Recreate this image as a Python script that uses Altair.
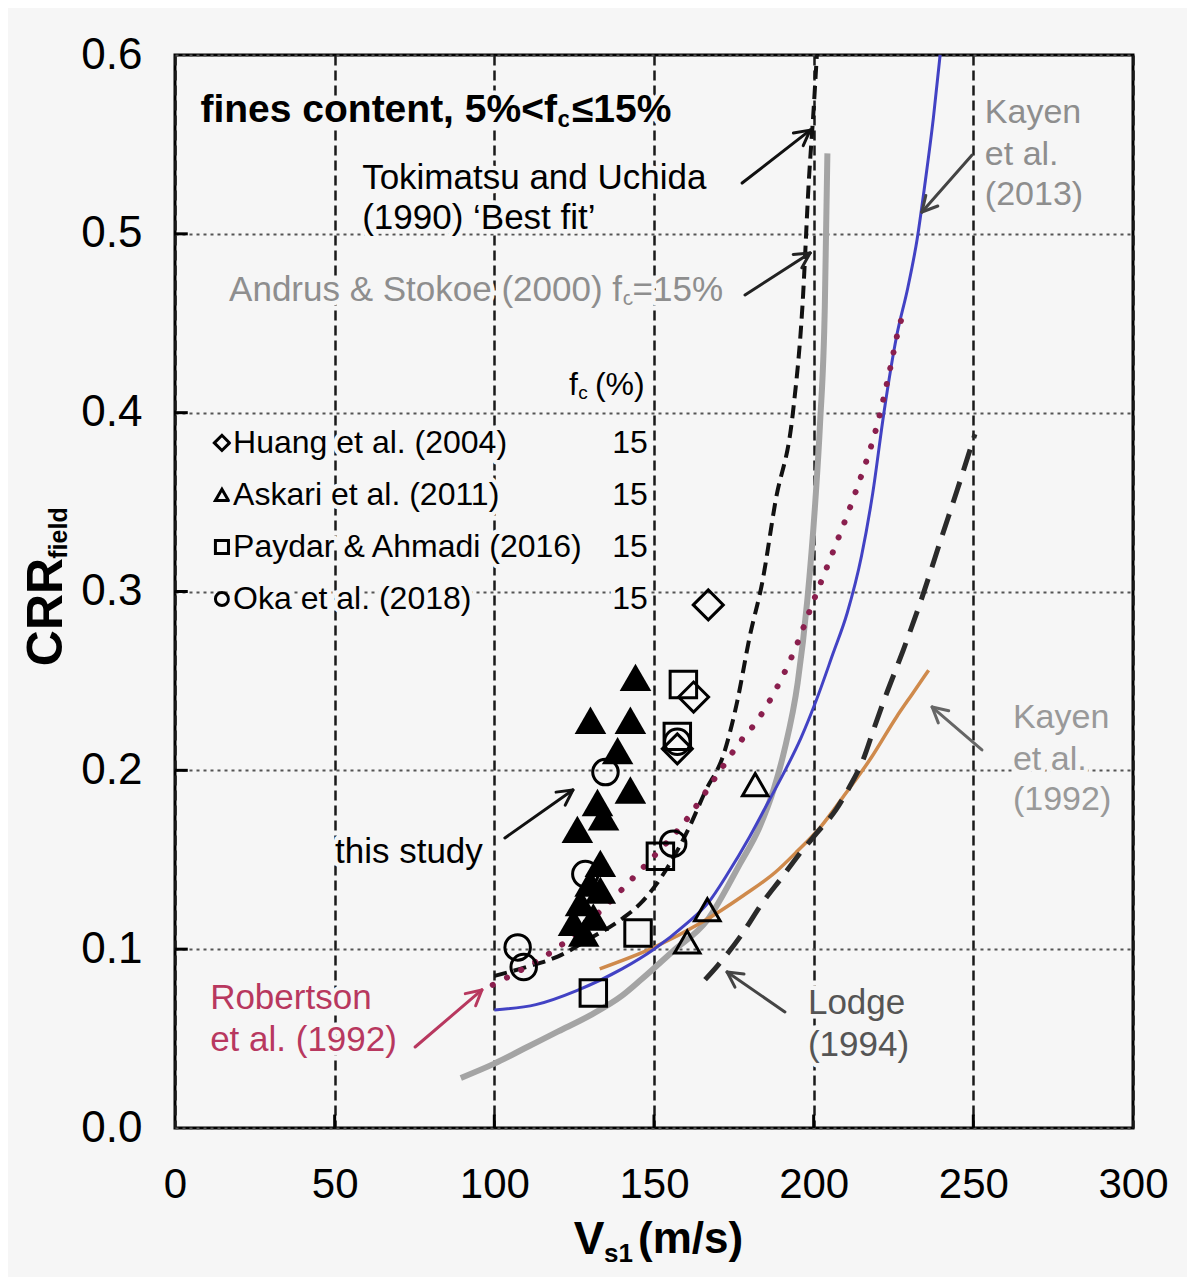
import math
import altair as alt
import pandas as pd

FONT = "Liberation Sans"
BG = "#f6f6f6"

# ---------------- data ----------------
toki_x = [100, 110, 120, 130, 140, 146, 154, 161, 166, 172, 176, 180, 184, 188, 193.5, 196.5, 198.5, 200, 201]
toki_y = [0.085, 0.09, 0.096, 0.106, 0.117, 0.126, 0.145, 0.168, 0.188, 0.21, 0.238, 0.275, 0.306, 0.35, 0.40, 0.46, 0.53, 0.57, 0.60]

andrus_x = [89.5, 100, 110, 120, 130, 140, 146, 156, 166.6, 177, 183, 187.6, 190.8, 195, 198, 200.5, 202, 203.5, 204.3]
andrus_y = [0.028, 0.036, 0.045, 0.054, 0.063, 0.074, 0.083, 0.099, 0.116, 0.148, 0.168, 0.19, 0.211, 0.249, 0.295, 0.35, 0.394, 0.46, 0.545]

kayen13_x = [100, 113, 126, 140, 150, 160, 167, 173, 180, 186, 190.5, 196, 201, 206, 210.5, 215, 218.5, 222, 226, 229.5, 232.4, 235, 237.5, 239.6]
kayen13_y = [0.066, 0.069, 0.077, 0.089, 0.100, 0.114, 0.126, 0.142, 0.163, 0.183, 0.198, 0.218, 0.24, 0.265, 0.288, 0.32, 0.355, 0.40, 0.443, 0.47, 0.497, 0.53, 0.565, 0.60]

kayen92_x = [133, 150, 165, 178, 188, 195, 202, 210, 218, 226, 231, 236]
kayen92_y = [0.089, 0.101, 0.115, 0.13, 0.143, 0.155, 0.168, 0.187, 0.207, 0.23, 0.243, 0.256]

lodge_x = [166, 170, 177, 184, 190, 195, 201, 207, 211, 215.5, 219, 222, 228, 234, 240, 245, 250.5]
lodge_y = [0.083, 0.091, 0.107, 0.126, 0.14, 0.152, 0.165, 0.178, 0.19, 0.206, 0.224, 0.239, 0.267, 0.297, 0.33, 0.357, 0.388]

robertson_x = [99.5, 110, 120, 130, 137, 143, 150, 160, 170, 177, 182, 187.5, 193.5, 200, 206, 213, 220, 224, 226.5, 228.5]
robertson_y = [0.08, 0.09, 0.101, 0.116, 0.128, 0.139, 0.152, 0.172, 0.198, 0.216, 0.227, 0.243, 0.265, 0.295, 0.322, 0.355, 0.394, 0.425, 0.446, 0.458]

# data points
huang_x = [167, 162.4, 157.3]
huang_y = [0.2925, 0.241, 0.212]
askari_x = [181.7, 166.7, 160.4]
askari_y = [0.192, 0.122, 0.104]
paydar_x = [131, 145, 152, 159.2, 157.3]
paydar_y = [0.0755, 0.109, 0.152, 0.248, 0.219]
oka_x = [134.8, 156, 107.3, 109.2, 128.5, 157.3]
oka_y = [0.199, 0.159, 0.101, 0.090, 0.142, 0.216]
study_x = [144.2, 130.1, 142.6, 138.6, 142.6, 132.3, 126, 134.2, 133.2, 130, 127, 131, 128, 133.2, 124.8]
study_y = [0.252, 0.228, 0.228, 0.211, 0.189, 0.182, 0.167, 0.174, 0.148, 0.137, 0.126, 0.118, 0.109, 0.133, 0.115]

legend_names = ["Huang et al. (2004)", "Askari et al. (2011)", "Paydar & Ahmadi (2016)", "Oka et al. (2018)"]
legend_fc = ["15", "15", "15", "15"]
legend_shapes = ["diamond", "triangle-up", "square", "circle"]
legend_y = [0.3831, 0.3540, 0.3249, 0.2958]

x_ticks = [0, 50, 100, 150, 200, 250, 300]
y_ticks = [0.0, 0.1, 0.2, 0.3, 0.4, 0.5, 0.6]

# ---------------- geometry ----------------
W, H = 958, 1073
XMAX, YMAX = 300, 0.6
KX, KY = W / XMAX, H / YMAX

XS = alt.Scale(domain=[0, XMAX], nice=False, zero=False)
YS = alt.Scale(domain=[0, YMAX], nice=False, zero=False)
XAX = alt.Axis(values=x_ticks, format="d", title=None)
YAX = alt.Axis(values=y_ticks, format=".1f", title=None)


def X(f="x"):
    return alt.X(f"{f}:Q", scale=XS, axis=XAX)


def Y(f="y"):
    return alt.Y(f"{f}:Q", scale=YS, axis=YAX)


layers = []

# inward ticks
tick_b = pd.DataFrame({"x": x_ticks[1:-1], "y": [0.0] * 5, "y2": [0.0075] * 5})
layers.append(alt.Chart(tick_b).mark_rule(color="black", strokeWidth=3).encode(
    x=X(), y=Y(), y2="y2:Q"))
tick_l = pd.DataFrame({"x": [0.0] * 5, "x2": [4.0] * 5, "y": y_ticks[1:-1]})
layers.append(alt.Chart(tick_l).mark_rule(color="black", strokeWidth=3).encode(
    x=X(), x2="x2:Q", y=Y()))


def curve(xs, ys, **kw):
    df = pd.DataFrame({"x": xs, "y": ys, "i": range(len(xs))})
    return alt.Chart(df).mark_line(interpolate="monotone", **kw).encode(
        x=X(), y=Y(), order="i:Q")


layers.append(curve(andrus_x, andrus_y, color="#a4a4a4", strokeWidth=6))
layers.append(curve(kayen92_x, kayen92_y, color="#cf8a4c", strokeWidth=3.5))
layers.append(curve(kayen13_x, kayen13_y, color="#4242c4", strokeWidth=3))
layers.append(curve(lodge_x, lodge_y, color="#2a2a2a", strokeWidth=5, strokeDash=[22, 12]))
layers.append(curve(toki_x, toki_y, color="#111111", strokeWidth=4, strokeDash=[13, 7]))
layers.append(curve(robertson_x, robertson_y, color="#8a1f4e", strokeWidth=6,
                    strokeDash=[0.1, 16], strokeCap="round"))


def pts(xs, ys, shape, size, filled, sw=3):
    df = pd.DataFrame({"x": xs, "y": ys})
    if filled:
        m = alt.Chart(df).mark_point(shape=shape, size=size, filled=True, color="black", opacity=1)
    else:
        m = alt.Chart(df).mark_point(shape=shape, size=size, filled=False, color="black",
                                     strokeWidth=sw, opacity=1)
    return m.encode(x=X(), y=Y())


layers.append(pts(study_x, study_y, "triangle-up", 1000, True))
layers.append(pts(paydar_x, paydar_y, "square", 700, False))
layers.append(pts(oka_x, oka_y, "circle", 650, False))
layers.append(pts(askari_x, askari_y, "triangle-up", 650, False))
layers.append(pts(huang_x, huang_y, "diamond", 900, False))

# legend markers
for nm, shp, ly in zip(legend_names, legend_shapes, legend_y):
    layers.append(pts([14.7], [ly], shp, 170 if shp != "diamond" else 230, False, sw=3))


def txt(xs, ys, labels, size, color="black", weight="normal", align="left", halo=True, dy=0):
    df = pd.DataFrame({"x": xs, "y": ys, "t": labels})
    base = alt.Chart(df).encode(x=X(), y=Y(), text="t:N")
    out = []
    common = dict(fontSize=size, font=FONT, fontWeight=weight, align=align, baseline="middle", dy=dy)
    if halo:
        out.append(base.mark_text(color=BG, stroke=BG, strokeWidth=9, strokeJoin="round", **common))
    out.append(base.mark_text(color=color, **common))
    return out


# title line with subscript
layers += txt([119.6], [0.5693], ["fines content, 5%<f"], 39, weight="bold", align="right")
layers += txt([119.8], [0.5693], ["c"], 24, weight="bold", dy=10)
layers += txt([124.3], [0.5693], ["≤15%"], 39, weight="bold")

layers += txt([58.6, 58.6], [0.5312, 0.5089], ["Tokimatsu and Uchida", "(1990) \u2018Best fit\u2019"], 35)

GRAY = "#8e8e8e"
layers += txt([140.0], [0.4686], ["Andrus & Stokoe (2000) f"], 35, color=GRAY, align="right")
layers += txt([140.2], [0.4686], ["c"], 21, color=GRAY, dy=9)
layers += txt([143.3], [0.4686], ["=15%"], 35, color=GRAY)

layers += txt([126.2], [0.4155], ["f"], 32, align="right")
layers += txt([126.3], [0.4155], ["c"], 19, dy=8)
layers += txt([131.5], [0.4155], ["(%)"], 32)

layers += txt([18.2] * 4, legend_y, legend_names, 32)
layers += txt([142.5] * 4, legend_y, legend_fc, 32, align="center")

layers += txt([253.6] * 3, [0.5676, 0.5441, 0.5217], ["Kayen", "et al.", "(2013)"], 34, color=GRAY)
layers += txt([50.1], [0.1543], ["this study"], 35)
layers += txt([11.0, 11.0], [0.0727, 0.0492], ["Robertson", "et al. (1992)"], 35, color="#b8385f")
layers += txt([198.2, 198.2], [0.0699, 0.0464], ["Lodge", "(1994)"], 35, color="#555555")
layers += txt([262.4] * 3, [0.2293, 0.2058, 0.1834], ["Kayen", "et al.", "(1992)"], 34, color="#999999")

# arrows: tail -> head, colour
arrows = [
    (177.6, 0.5284, 198.9, 0.558, "#111111"),
    (178.5, 0.4658, 198.9, 0.4893, "#222222"),
    (249.6, 0.5441, 233.9, 0.5122, "#444444"),
    (103.3, 0.1622, 124.6, 0.189, "#111111"),
    (75.2, 0.0453, 96.1, 0.0772, "#b8385f"),
    (191.0, 0.0649, 172.9, 0.0872, "#444444"),
    (252.7, 0.2114, 237.1, 0.2354, "#666666"),
]
for tx, ty, hx, hy, col in arrows:
    segs = [(tx, ty, hx, hy)]
    a = math.atan2((hy - ty) * KY, (hx - tx) * KX)
    L, th = 17, math.radians(28)
    for s in (1, -1):
        wx = hx - L * math.cos(a + s * th) / KX
        wy = hy - L * math.sin(a + s * th) / KY
        segs.append((wx, wy, hx, hy))
    df = pd.DataFrame(segs, columns=["x", "y", "x2", "y2"])
    layers.append(alt.Chart(df).mark_rule(color=col, strokeWidth=3, strokeCap="round").encode(
        x=X(), y=Y(), x2="x2:Q", y2="y2:Q"))

# axis titles (pixel placed, relative to plot origin)
one = pd.DataFrame({"d": [0]})


def ptxt(t, px, py, size, angle=0, align="center", weight="bold"):
    return alt.Chart(one).mark_text(text=t, fontSize=size, font=FONT, fontWeight=weight,
                                    align=align, baseline="middle", angle=angle, color="black").encode(
        x=alt.value(px), y=alt.value(py))


layers.append(ptxt("V", 414, 1185, 46))
layers.append(ptxt("s1", 429, 1199, 26, align="left"))
layers.append(ptxt("(m/s)", 463, 1185, 44, align="left"))
layers.append(ptxt("CRR", -128, 557, 50, angle=270))
layers.append(ptxt("field", -116, 478, 25, angle=270))

chart = alt.layer(*layers).properties(
    width=W, height=H,
    autosize=alt.AutoSizeParams(type="none"),
    padding={"left": 167, "top": 47, "right": 54, "bottom": 149},
    background=BG,
).configure_view(
    stroke="black", strokeWidth=3, fill=BG
).configure_axis(
    domain=False, ticks=False, labelFont=FONT, labelColor="black",
    grid=True, labelFlush=False,
).configure_axisX(
    labelFontSize=42, labelPadding=36, gridDash=[10, 5], gridColor="#1a1a1a", gridWidth=2.5, gridOpacity=1,
).configure_axisY(
    labelFontSize=44, labelPadding=33, gridDash=[3, 4], gridColor="#555555", gridWidth=2, gridOpacity=1,
)

chart.save("out.html", embed_options={"renderer": "svg", "actions": False})
